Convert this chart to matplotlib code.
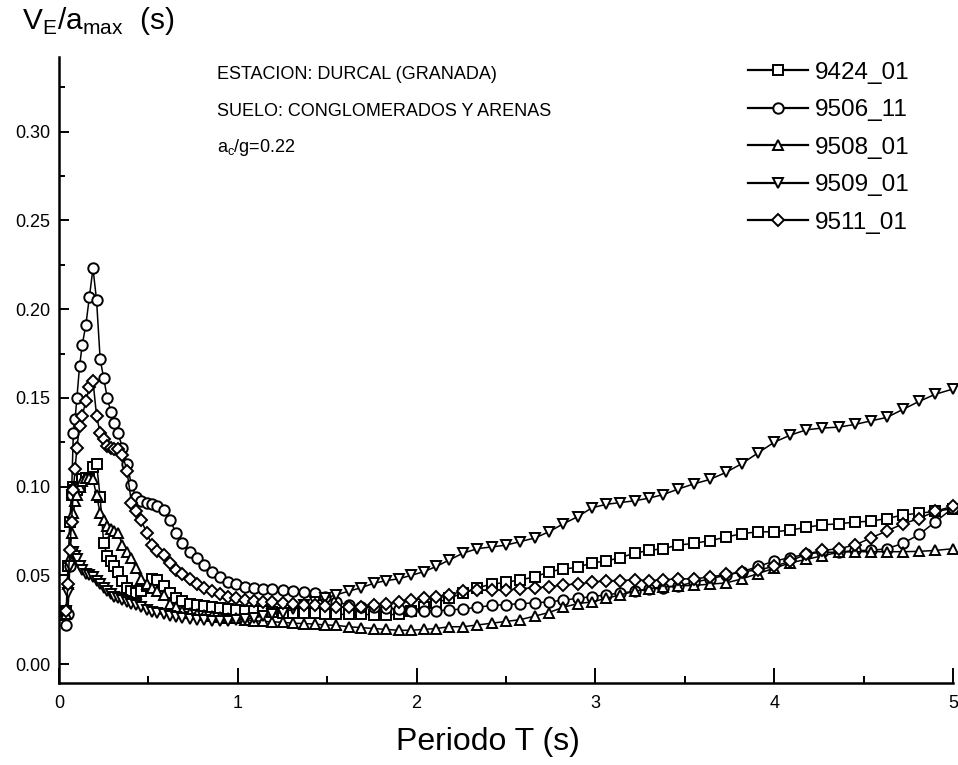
#!/usr/bin/env python3
"""Spectra of V_E/a_max versus period for the Durcal (Granada) station records."""
import matplotlib
matplotlib.use('Agg')
import matplotlib.pyplot as plt
from matplotlib.ticker import MultipleLocator, FormatStrFormatter

# Sampled periods (s)
periods = [
    0.04, 0.05, 0.06, 0.07, 0.08, 0.09, 0.10, 0.115, 0.13, 0.15,
    0.17, 0.19, 0.21, 0.23, 0.25, 0.27, 0.29, 0.31, 0.33, 0.355,
    0.38, 0.405, 0.43, 0.46, 0.49, 0.52, 0.55, 0.585, 0.62, 0.655,
    0.69, 0.73, 0.77, 0.81, 0.855, 0.90, 0.945, 0.99, 1.04, 1.09,
    1.14, 1.19, 1.25, 1.31, 1.37, 1.43, 1.49, 1.55, 1.62, 1.69,
    1.76, 1.83, 1.90, 1.97, 2.04, 2.11, 2.18, 2.26, 2.34, 2.42,
    2.50, 2.58, 2.66, 2.74, 2.82, 2.90, 2.98, 3.06, 3.14, 3.22,
    3.30, 3.38, 3.46, 3.55, 3.64, 3.73, 3.82, 3.91, 4.00, 4.09,
    4.18, 4.27, 4.36, 4.45, 4.54, 4.63, 4.72, 4.81, 4.90, 5.00,
]

v_9424_01 = [
    0.030, 0.055, 0.080, 0.095, 0.100, 0.098, 0.098, 0.100, 0.104, 0.105,
    0.104, 0.111, 0.113, 0.094, 0.068, 0.061, 0.058, 0.055, 0.052, 0.047,
    0.043, 0.041, 0.040, 0.041, 0.044, 0.048, 0.0475, 0.044, 0.040, 0.037,
    0.0355, 0.034, 0.033, 0.0325, 0.032, 0.0315, 0.031, 0.0305, 0.030, 0.030,
    0.0298, 0.0295, 0.029, 0.029, 0.0288, 0.0285, 0.0283, 0.028, 0.028, 0.028,
    0.0278, 0.0278, 0.028, 0.030, 0.032, 0.0345, 0.037, 0.040, 0.043, 0.045,
    0.046, 0.0475, 0.049, 0.052, 0.0535, 0.0545, 0.057, 0.058, 0.060, 0.0625,
    0.064, 0.065, 0.067, 0.068, 0.0695, 0.0715, 0.0735, 0.0745, 0.0745, 0.0755,
    0.077, 0.0785, 0.079, 0.080, 0.0805, 0.082, 0.084, 0.085, 0.086, 0.0876,
]

v_9506_11 = [
    0.022, 0.028, 0.055, 0.095, 0.130, 0.138, 0.150, 0.168, 0.180, 0.191,
    0.207, 0.223, 0.205, 0.172, 0.161, 0.150, 0.142, 0.136, 0.130, 0.122,
    0.113, 0.101, 0.094, 0.092, 0.091, 0.090, 0.089, 0.087, 0.081, 0.074,
    0.068, 0.063, 0.060, 0.056, 0.052, 0.049, 0.0465, 0.045, 0.0435, 0.043,
    0.0425, 0.042, 0.0418, 0.041, 0.0405, 0.040, 0.038, 0.035, 0.0333, 0.0323,
    0.032, 0.0315, 0.031, 0.030, 0.030, 0.030, 0.0305, 0.031, 0.032, 0.033,
    0.0335, 0.034, 0.0345, 0.035, 0.036, 0.037, 0.038, 0.039, 0.040, 0.041,
    0.042, 0.043, 0.044, 0.046, 0.048, 0.050, 0.052, 0.055, 0.058, 0.060,
    0.062, 0.063, 0.063, 0.064, 0.064, 0.065, 0.068, 0.073, 0.080, 0.088,
]

v_9508_01 = [
    0.028, 0.045, 0.060, 0.074, 0.085, 0.092, 0.095, 0.100, 0.103, 0.105,
    0.105, 0.104, 0.095, 0.085, 0.081, 0.078, 0.076, 0.075, 0.074, 0.067,
    0.063, 0.060, 0.054, 0.048, 0.045, 0.043, 0.041, 0.039, 0.034, 0.032,
    0.030, 0.029, 0.028, 0.0275, 0.027, 0.0265, 0.026, 0.0258, 0.025, 0.0245,
    0.024, 0.0238, 0.0235, 0.023, 0.0228, 0.0225, 0.022, 0.0218, 0.021, 0.0205,
    0.020, 0.0195, 0.019, 0.019, 0.0195, 0.020, 0.021, 0.021, 0.022, 0.023,
    0.024, 0.025, 0.027, 0.029, 0.032, 0.034, 0.035, 0.037, 0.039, 0.041,
    0.0425, 0.0435, 0.044, 0.0443, 0.045, 0.0457, 0.048, 0.051, 0.054, 0.057,
    0.059, 0.061, 0.063, 0.0633, 0.0633, 0.0633, 0.0633, 0.0635, 0.064, 0.065,
]

v_9509_01 = [
    0.030, 0.040, 0.055, 0.062, 0.063, 0.061, 0.059, 0.055, 0.053, 0.051,
    0.050, 0.049, 0.047, 0.045, 0.043, 0.041, 0.0395, 0.038, 0.037, 0.036,
    0.035, 0.034, 0.033, 0.032, 0.0305, 0.0295, 0.0285, 0.028, 0.027, 0.0265,
    0.026, 0.0255, 0.025, 0.025, 0.0245, 0.0245, 0.0245, 0.025, 0.0255, 0.026,
    0.027, 0.028, 0.029, 0.031, 0.033, 0.035, 0.037, 0.039, 0.041, 0.043,
    0.0455, 0.047, 0.048, 0.050, 0.052, 0.055, 0.0585, 0.0625, 0.065, 0.066,
    0.067, 0.069, 0.071, 0.0745, 0.079, 0.083, 0.088, 0.090, 0.091, 0.092,
    0.0935, 0.0955, 0.0985, 0.1015, 0.104, 0.108, 0.113, 0.119, 0.125, 0.129,
    0.132, 0.133, 0.1335, 0.135, 0.137, 0.139, 0.1435, 0.148, 0.152, 0.155,
]

v_9511_01 = [
    0.030, 0.045, 0.064, 0.080, 0.098, 0.110, 0.122, 0.134, 0.140, 0.148,
    0.156, 0.1595, 0.140, 0.130, 0.127, 0.123, 0.122, 0.121, 0.121, 0.118,
    0.109, 0.091, 0.086, 0.081, 0.074, 0.067, 0.0635, 0.0615, 0.057, 0.053,
    0.0505, 0.048, 0.045, 0.043, 0.041, 0.0395, 0.038, 0.037, 0.036, 0.0355,
    0.035, 0.035, 0.0345, 0.034, 0.0335, 0.033, 0.0325, 0.032, 0.032, 0.032,
    0.033, 0.034, 0.035, 0.036, 0.037, 0.038, 0.039, 0.041, 0.0415, 0.0417,
    0.0417, 0.0425, 0.043, 0.0435, 0.0445, 0.0452, 0.046, 0.047, 0.047, 0.0475,
    0.047, 0.0475, 0.048, 0.048, 0.049, 0.0505, 0.052, 0.053, 0.055, 0.058,
    0.062, 0.064, 0.065, 0.067, 0.071, 0.075, 0.079, 0.082, 0.086, 0.089,
]

series = [
    ('9424_01', v_9424_01, 's'),
    ('9506_11', v_9506_11, 'o'),
    ('9508_01', v_9508_01, '^'),
    ('9509_01', v_9509_01, 'v'),
    ('9511_01', v_9511_01, 'D'),
]

plt.rcParams['font.family'] = ['Liberation Sans', 'DejaVu Sans']

fig = plt.figure(figsize=(9.58, 7.65), dpi=100)
ax = fig.add_axes([0.0616, 0.1072, 0.9332, 0.818])

for name, vals, mk in series:
    ms = 6.2 if mk == 'D' else 7.5
    ax.plot(periods, vals, color='black', lw=1.1, marker=mk, ms=ms,
            mfc='white', mec='black', mew=1.4, label=name, clip_on=False)

ax.set_xlim(0, 5.0)
ax.set_ylim(-0.0107, 0.342)

ax.xaxis.set_major_locator(MultipleLocator(1))
ax.xaxis.set_minor_locator(MultipleLocator(0.5))
ax.yaxis.set_minor_locator(MultipleLocator(0.025))
ax.yaxis.set_major_formatter(FormatStrFormatter('%.2f'))
ax.set_yticks([0.0, 0.05, 0.10, 0.15, 0.20, 0.25, 0.30])

ax.tick_params(axis='both', which='both', direction='in', labelsize=13, width=1.4)
ax.tick_params(axis='x', which='major', length=11, pad=9)
ax.tick_params(axis='x', which='minor', length=5)
ax.tick_params(axis='y', which='major', length=7, pad=6)
ax.tick_params(axis='y', which='minor', length=4)

for side in ('top', 'right'):
    ax.spines[side].set_visible(False)
for side in ('left', 'bottom'):
    ax.spines[side].set_linewidth(1.8)

ax.set_xlabel('Periodo T (s)', fontsize=23, va='center')
ax.xaxis.set_label_coords(0.48, -0.094)
fig.text(0.023, 0.972, r'V$_\mathregular{E}$/a$_\mathregular{max}$  (s)',
         fontsize=21.5, ha='left', va='center')

ax.text(0.177, 0.973, 'ESTACION: DURCAL (GRANADA)', transform=ax.transAxes,
        fontsize=13, ha='left', va='center')
ax.text(0.177, 0.914, 'SUELO: CONGLOMERADOS Y ARENAS', transform=ax.transAxes,
        fontsize=13, ha='left', va='center')
ax.text(0.177, 0.855, r'a$_\mathregular{c}$/g=0.22', transform=ax.transAxes,
        fontsize=13, ha='left', va='center')

leg = ax.legend(loc='upper left', bbox_to_anchor=(0.771, 0.993), frameon=False,
                fontsize=17.5, handlelength=2.45, handletextpad=0.3,
                labelspacing=0.64, borderaxespad=0.0, borderpad=0.0)
for line in leg.get_lines():
    line.set_linewidth(1.6)

fig.savefig('out.png', dpi=100)
plt.close(fig)
